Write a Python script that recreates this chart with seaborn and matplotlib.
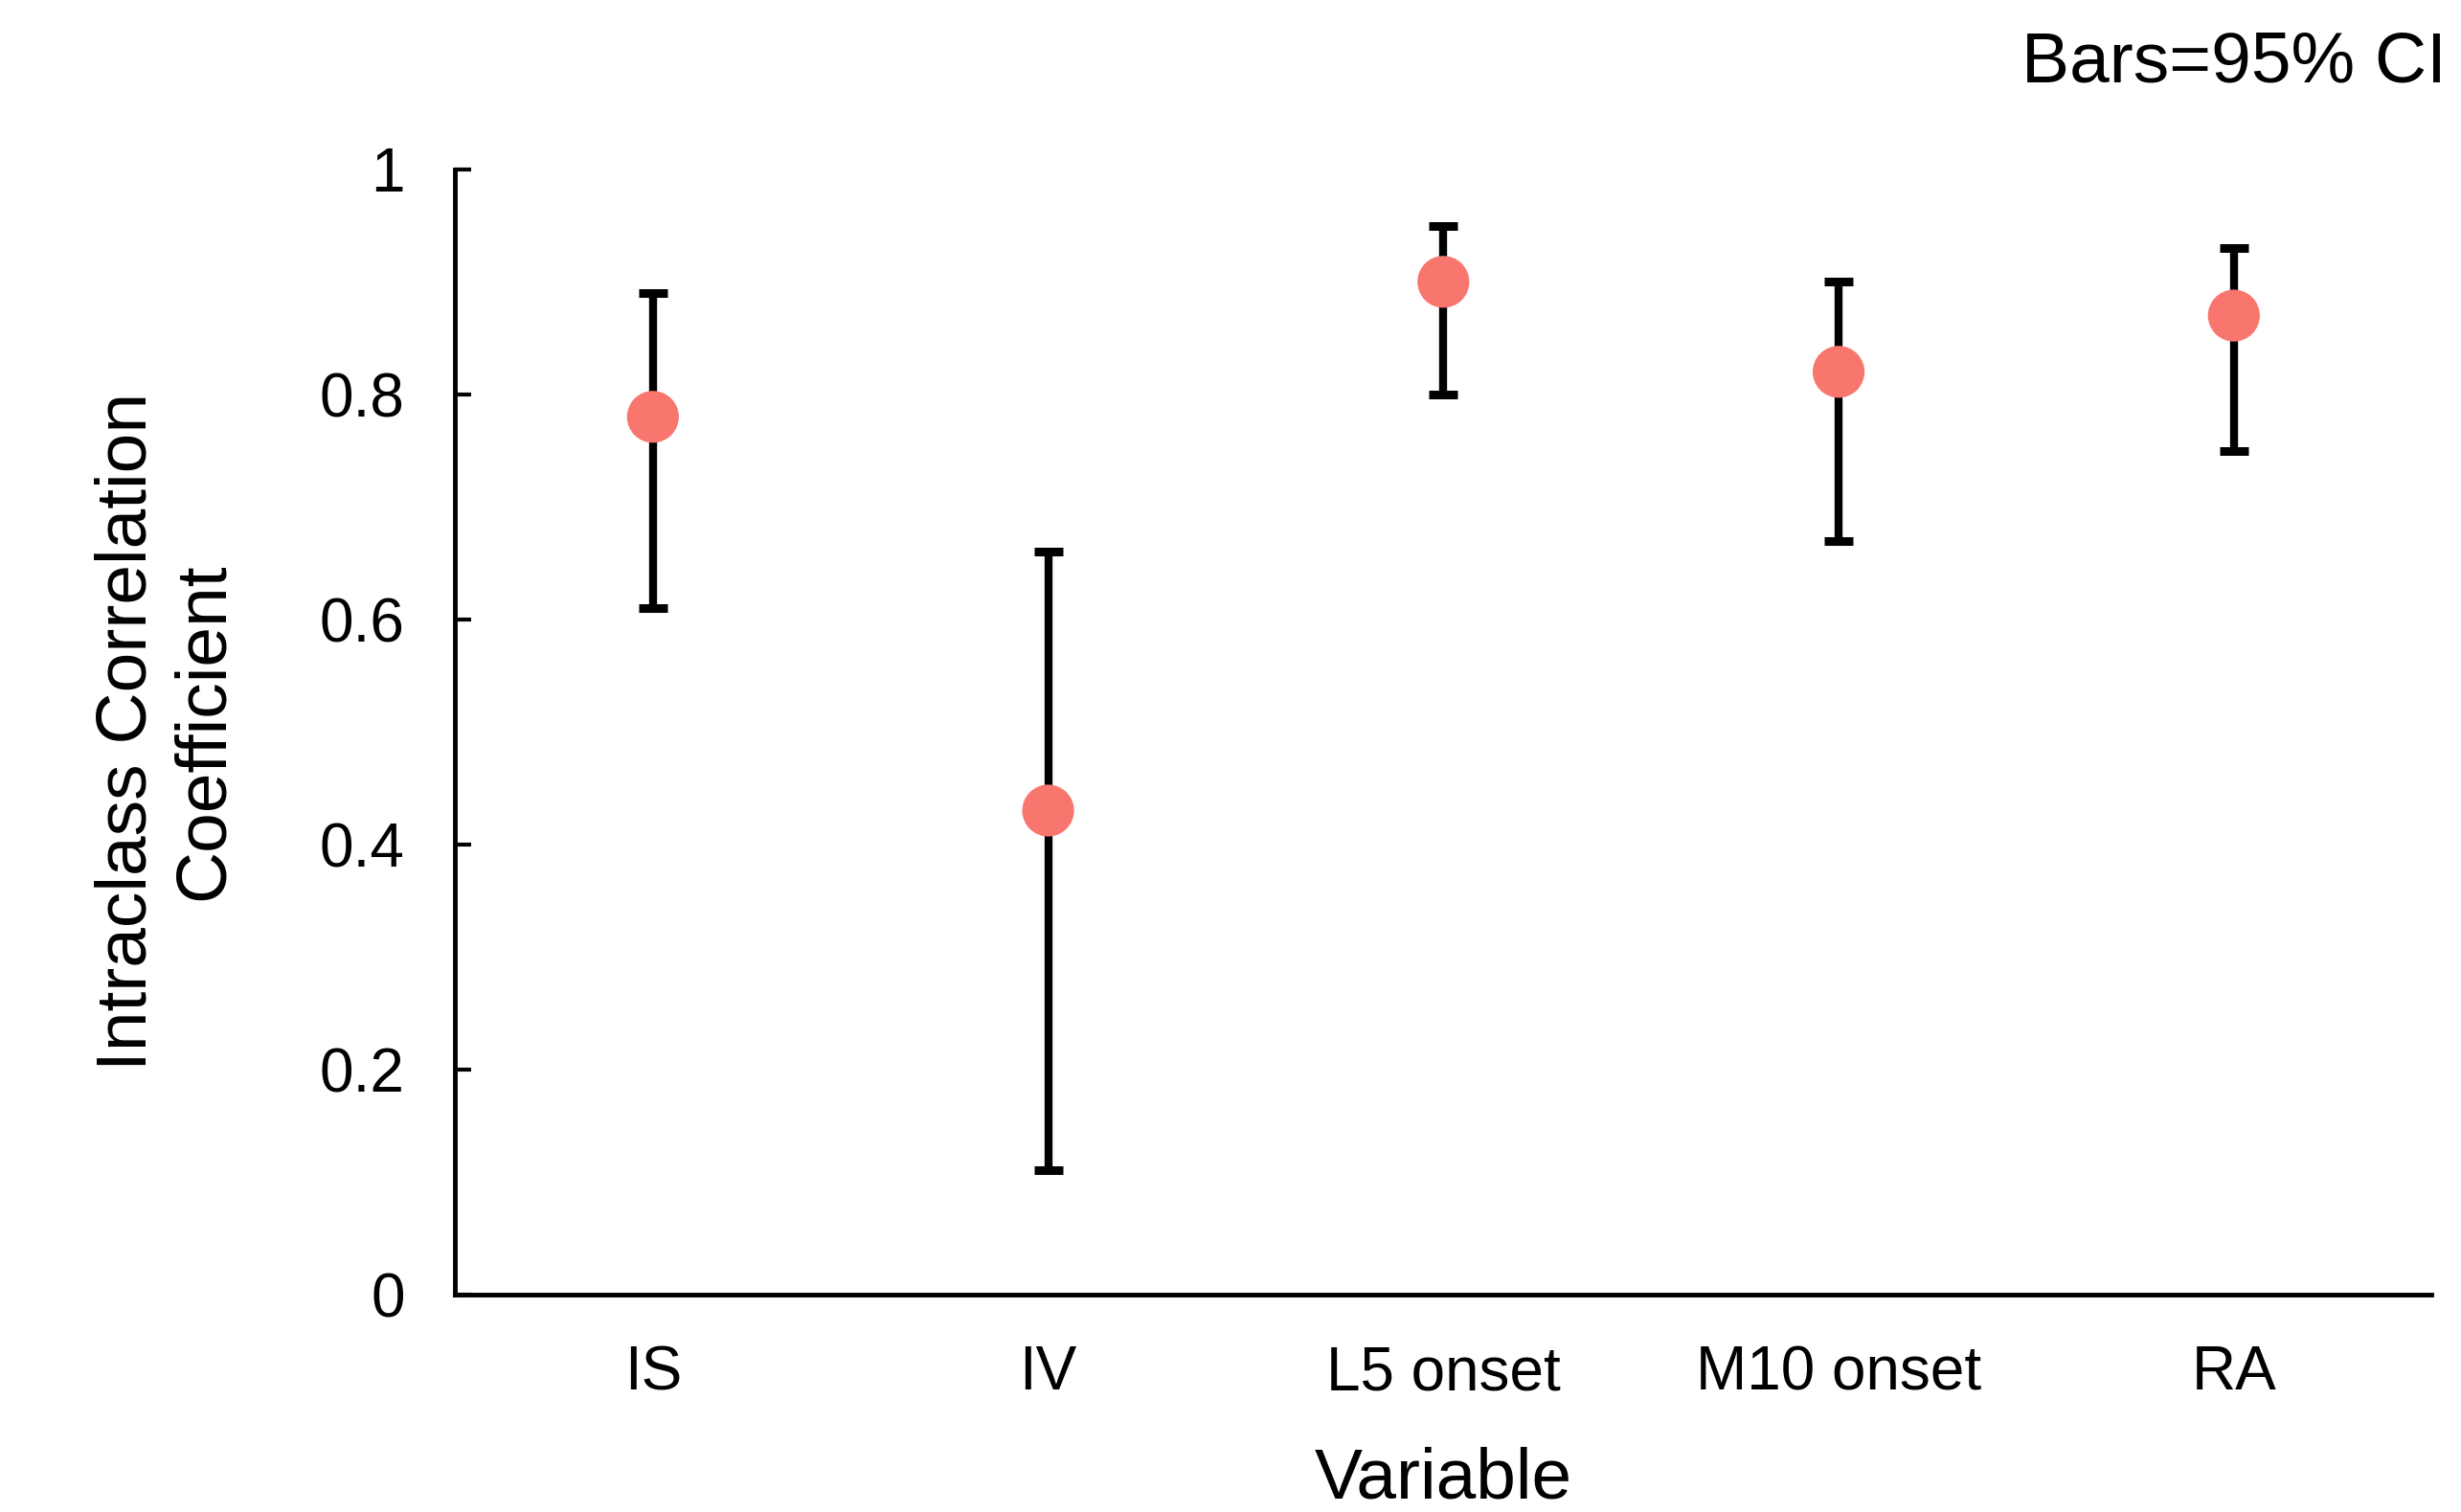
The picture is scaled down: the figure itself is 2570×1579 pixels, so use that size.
"""
ICC per actigraphy variable with 95% CI bars
"""
import matplotlib
matplotlib.use("Agg")
import matplotlib.pyplot as plt
import seaborn as sns
import pandas as pd

variables = ["IS", "IV", "L5 onset", "M10 onset", "RA"]
icc = [0.78, 0.43, 0.90, 0.82, 0.87]
ci_low = [0.61, 0.11, 0.80, 0.67, 0.75]
ci_high = [0.89, 0.66, 0.95, 0.90, 0.93]

df = pd.DataFrame({"Variable": variables, "ICC": icc, "lo": ci_low, "hi": ci_high})

sns.set_style("white")
plt.rcParams["font.family"] = ["Liberation Sans", "DejaVu Sans"]
plt.rcParams["text.color"] = "black"
plt.rcParams["axes.labelcolor"] = "black"

fig = plt.figure(figsize=(25.7, 15.79), dpi=100)
ax = fig.add_axes([0.185, 0.144, 0.803, 0.744])

# error bars first so the dots sit on top
ax.errorbar(df["Variable"], df["ICC"],
            yerr=[df["ICC"] - df["lo"], df["hi"] - df["ICC"]],
            fmt="none", ecolor="black", elinewidth=6, capsize=11, capthick=6.5, zorder=2)
sns.scatterplot(data=df, x="Variable", y="ICC", ax=ax, color="#F8766D",
                s=39 ** 2, edgecolor="none", zorder=3)

ax.set_xlim(-0.5, 4.5)
ax.set_ylim(0, 1)
ax.set_yticks([0, 0.2, 0.4, 0.6, 0.8, 1])
ax.set_yticklabels(["0", "0.2", "0.4", "0.6", "0.8", "1"])

sns.despine(ax=ax)
for side in ["left", "bottom"]:
    ax.spines[side].set_linewidth(3.5)
    ax.spines[side].set_color("black")

ax.tick_params(axis="y", left=True, direction="in", length=12, width=3, pad=38,
               labelsize=46, colors="black")
ax.tick_params(axis="x", bottom=False, length=0, pad=38, labelsize=46, colors="black")

ax.set_xlabel("Variable", fontsize=54, labelpad=33)
ax.set_ylabel("Intraclass Correlation\nCoefficient", fontsize=54, labelpad=62)

fig.text(0.994, 0.958, "Bars=95% CI", ha="right", va="center", fontsize=54)

fig.savefig("out.png", dpi=100)
